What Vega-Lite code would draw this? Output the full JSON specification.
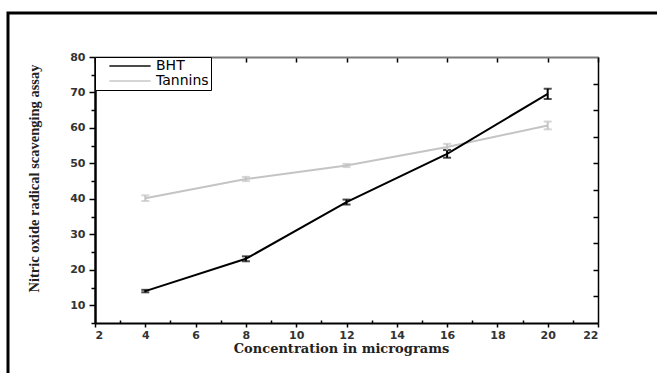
{
  "$schema": "https://vega.github.io/schema/vega-lite/v6.json",
  "width": 700,
  "height": 400,
  "autosize": "none",
  "padding": {"left": 8, "top": 13, "right": -51, "bottom": -40},
  "background": "white",
  "data": {
    "values": [
      {"compound": "BHT", "conc": 4, "value": 14.0, "err": 0.35},
      {"compound": "BHT", "conc": 8, "value": 23.1, "err": 0.7},
      {"compound": "BHT", "conc": 12, "value": 39.1, "err": 0.7},
      {"compound": "BHT", "conc": 16, "value": 52.7, "err": 1.1},
      {"compound": "BHT", "conc": 20, "value": 69.6, "err": 1.45},
      {"compound": "Tannins", "conc": 4, "value": 40.2, "err": 0.8},
      {"compound": "Tannins", "conc": 8, "value": 45.6, "err": 0.6},
      {"compound": "Tannins", "conc": 12, "value": 49.4, "err": 0.45},
      {"compound": "Tannins", "conc": 16, "value": 54.6, "err": 0.9},
      {"compound": "Tannins", "conc": 20, "value": 60.7, "err": 1.1}
    ]
  },
  "layer": [
    {
      "transform": [{"filter": {"field": "compound", "equal": "Tannins"}}],
      "mark": {"type": "line", "strokeWidth": 2},
      "encoding": {
        "x": {
          "field": "conc", "type": "quantitative",
          "scale": {"domain": [2, 22], "range": [87, 590], "nice": false, "zero": false},
          "axis": {"orient": "top", "offset": -44, "values": [2, 4, 6, 8, 10, 12, 14, 16, 18, 20, 22], "labels": false, "title": null, "tickSize": -5, "domainColor": "#7a7a7a", "domainWidth": 2, "tickWidth": 1.5}
        },
        "y": {
          "field": "value", "type": "quantitative",
          "scale": {"domain": [5, 80], "range": [310, 44], "nice": false, "zero": false},
          "axis": {"orient": "right", "offset": -110, "values": [12.5, 20, 27.5, 35, 42.5, 50, 57.5, 65, 72.5], "labels": false, "title": null, "tickSize": -5, "domainWidth": 1.5, "tickWidth": 1.5}
        },
        "color": {
          "field": "compound", "type": "nominal",
          "scale": {"domain": ["BHT", "Tannins"], "range": ["#000000", "#c4c4c4"]},
          "legend": {
            "orient": "none", "legendX": 87, "legendY": 44, "title": null,
            "symbolType": "stroke", "symbolSize": 1700, "symbolStrokeWidth": 2, "symbolOffset": 11, "clipHeight": 14,
            "labelFont": "DejaVu Sans", "labelFontSize": 14, "labelColor": "#000", "labelOffset": 4,
            "strokeColor": "#000", "fillColor": "white", "padding": 2, "rowPadding": 1
          }
        }
      }
    },
    {
      "transform": [{"filter": {"field": "compound", "equal": "BHT"}}],
      "mark": {"type": "line", "strokeWidth": 2},
      "encoding": {
        "x": {
          "field": "conc", "type": "quantitative",
          "axis": {"orient": "bottom", "offset": -90, "values": [3, 5, 7, 9, 11, 13, 15, 17, 19, 21], "labels": false, "title": null, "domain": false, "tickSize": -3, "tickWidth": 1.5}
        },
        "y": {
          "field": "value", "type": "quantitative",
          "axis": {"orient": "left", "offset": -87, "values": [5, 15, 25, 35, 45, 55, 65, 75], "labels": false, "title": null, "domain": false, "tickSize": 4, "tickWidth": 1.5}
        },
        "color": {"field": "compound", "type": "nominal"}
      }
    },
    {
      "mark": {"type": "errorbar", "thickness": 2, "ticks": {"size": 8, "thickness": 2}},
      "encoding": {
        "x": {
          "field": "conc", "type": "quantitative",
          "axis": {"orient": "bottom", "offset": -90, "values": [2, 4, 6, 8, 10, 12, 14, 16, 18, 20, 22], "title": "Concentration in micrograms", "tickSize": 4, "tickWidth": 1.5, "domainWidth": 2, "labelPadding": 2, "titlePadding": 2, "titleX": 333, "titleFont": "DejaVu Serif", "titleFontSize": 13, "titleFontWeight": "bold", "titleColor": "#222"}
        },
        "y": {
          "field": "value", "type": "quantitative",
          "axis": {"orient": "left", "offset": -87, "values": [10, 20, 30, 40, 50, 60, 70, 80], "title": "Nitric oxide radical scavenging assay", "tickSize": 6, "tickWidth": 1.5, "domainWidth": 2.5, "labelPadding": 4, "titlePadding": 28, "titleY": 165, "titleFont": "Liberation Serif", "titleFontSize": 14.5, "titleFontWeight": "bold", "titleColor": "#222"}
        },
        "yError": {"field": "err"},
        "color": {"field": "compound", "type": "nominal"}
      }
    }
  ],
  "resolve": {"axis": {"x": "independent", "y": "independent"}},
  "config": {
    "view": {"stroke": "#000", "strokeWidth": 3},
    "axis": {"grid": false, "labelFont": "DejaVu Sans", "labelFontWeight": "bold", "labelFontSize": 11, "labelColor": "#333", "tickColor": "#000", "domainColor": "#000"}
  }
}
